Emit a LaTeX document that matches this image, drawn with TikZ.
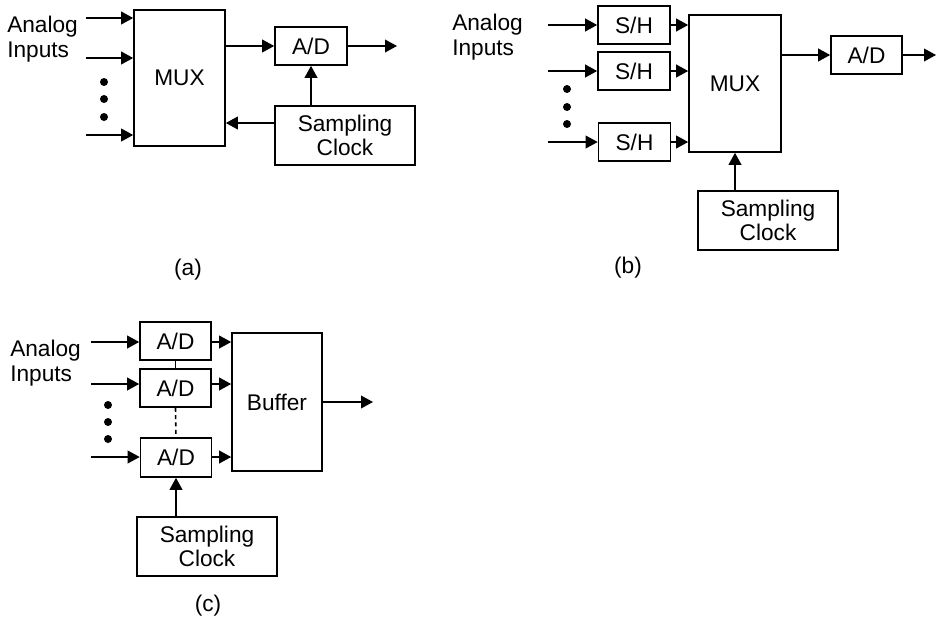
\documentclass[tikz,border=0pt]{standalone}
\usepackage{fontspec}
\setmainfont{Liberation Sans}
\usetikzlibrary{arrows.meta,calc}
\begin{document}
\begin{tikzpicture}[x=0.75pt,y=-0.75pt,
  font=\fontsize{17}{18.5}\selectfont,
  box/.style={draw,line width=1.2pt,inner sep=0pt,align=center},
  sz/.style 2 args={minimum width={#1*0.75pt},minimum height={#2*0.75pt}},
  wire/.style={line width=1.2pt},
  arr/.style={wire,-{Triangle[length=9pt,width=9.5pt]}},
  dot/.style={circle,fill,inner sep=0pt,minimum size=6pt},
  lab/.style={anchor=base west,align=left,inner sep=0pt}]
\useasboundingbox (0,0) rectangle (938,621);

% ---------- (a) ----------
\node[box,sz={91}{136}] (muxa) at (179.5,78) {MUX};
\node[box,sz={72}{38}] (ada) at (311,46) {A/D};
\node[box,sz={140}{59}] (clka) at (345,135.5) {Sampling\\Clock};
\coordinate (ia1) at (86,18);
\coordinate (ia2) at (86,58);
\coordinate (ia3) at (86,135);
\draw[arr] (ia1) -- (ia1 -| muxa.west);
\draw[arr] (ia2) -- (ia2 -| muxa.west);
\draw[arr] (ia3) -- (ia3 -| muxa.west);
\node[dot] (da1) at (104,82) {};
\node[dot] (da2) at (104,99) {};
\node[dot] (da3) at (104,117) {};
\node[lab] (laba) at (7,57) {Analog\\Inputs};
\draw[arr] (muxa.east |- ada.west) -- (ada.west);
\coordinate (oa) at (397,46);
\draw[arr] (ada.east) -- (oa);
\draw[arr] (clka.north -| ada.south) -- (ada.south);
\coordinate (ca) at ($(clka.west)+(0,-12.5)$);
\draw[arr] (ca) -- (ca -| muxa.east);
\node (capa) at (188,270) {(a)};

% ---------- (b) ----------
\node[box,sz={72}{38}] (sh1) at (634,25) {S/H};
\node[box,sz={72}{38}] (sh2) at (634,71) {S/H};
\node[box,sz={72}{38}] (sh3) at (634.5,142) {S/H};
\coordinate (ib1) at (548,25);
\coordinate (ib2) at (548,71);
\coordinate (ib3) at (548,142);
\draw[arr] (ib1) -- (sh1.west);
\draw[arr] (ib2) -- (sh2.west);
\draw[arr] (ib3) -- (sh3.west);
\node[dot] (db1) at (567,89) {};
\node[dot] (db2) at (567,107) {};
\node[dot] (db3) at (567,124) {};
\node[lab] (labb) at (452,55) {Analog\\Inputs};
\node[box,sz={92}{137}] (muxb) at (735,83.5) {MUX};
\draw[arr] (sh1.east) -- (sh1.east -| muxb.west);
\draw[arr] (sh2.east) -- (sh2.east -| muxb.west);
\draw[arr] (sh3.east) -- (sh3.east -| muxb.west);
\node[box,sz={71}{38}] (adb) at (866.5,55) {A/D};
\draw[arr] (muxb.east |- adb.west) -- (adb.west);
\coordinate (ob) at (936,55);
\draw[arr] (adb.east) -- (ob);
\node[box,sz={140}{59}] (clkb) at (768,220.5) {Sampling\\Clock};
\draw[arr] (clkb.north -| muxb.south) -- (muxb.south);
\node (capb) at (628,268) {(b)};

% ---------- (c) ----------
\node[box,sz={71}{38}] (adc1) at (175.5,341) {A/D};
\node[box,sz={71}{38}] (adc2) at (175.5,388) {A/D};
\node[box,sz={71}{39}] (adc3) at (176,457.5) {A/D};
\coordinate (ic1) at (91,342);
\coordinate (ic2) at (91,384);
\coordinate (ic3) at (91,457);
\draw[arr] (ic1) -- (ic1 -| adc1.west);
\draw[arr] (ic2) -- (ic2 -| adc2.west);
\draw[arr] (ic3) -- (ic3 -| adc3.west);
\node[dot] (dc1) at (108,405) {};
\node[dot] (dc2) at (108,422) {};
\node[dot] (dc3) at (108,439) {};
\node[lab] (labc) at (10,381) {Analog\\Inputs};
\draw[wire] (adc1.south) -- (adc2.north);
\draw[wire,dash pattern=on 3pt off 2.5pt] (adc2.south) -- (adc3.north);
\node[box,sz={90}{138}] (buf) at (277,402) {Buffer};
\draw[arr] (ic1 -| adc1.east) -- (ic1 -| buf.west);
\draw[arr] (ic2 -| adc2.east) -- (ic2 -| buf.west);
\draw[arr] (ic3 -| adc3.east) -- (ic3 -| buf.west);
\coordinate (oc) at (373,402);
\draw[arr] (buf.east) -- (oc);
\node[box,sz={140}{59}] (clkc) at (207,546.5) {Sampling\\Clock};
\draw[arr] (clkc.north -| adc3.south) -- (adc3.south);
\node (capc) at (208,606) {(c)};
\end{tikzpicture}
\end{document}
